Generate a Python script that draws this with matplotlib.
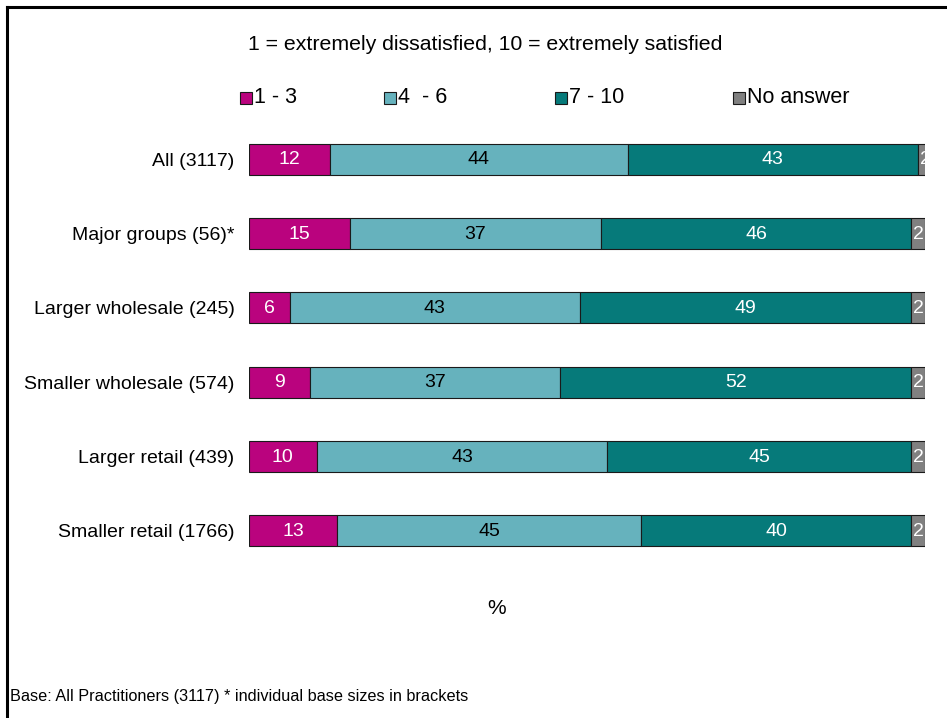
import matplotlib.pyplot as plt
from matplotlib.lines import Line2D
from matplotlib.patches import Rectangle
import numpy as np

plt.rcParams['font.family'] = ['Liberation Sans', 'DejaVu Sans']

groups = ['All (3117)', 'Major groups (56)*', 'Larger wholesale (245)',
          'Smaller wholesale (574)', 'Larger retail (439)', 'Smaller retail (1766)']
low = [12, 15, 6, 9, 10, 13]
mid = [44, 37, 43, 37, 43, 45]
high = [43, 46, 49, 52, 45, 40]
no_answer = [2, 2, 2, 2, 2, 2]

series = [low, mid, high, no_answer]
names = ['1 - 3', '4  - 6', '7 - 10', 'No answer']
colors = ['#BA037E', '#66B2BD', '#067A7A', '#808080']
text_colors = ['white', 'black', 'white', 'white']

W, H = 947, 718
fig = plt.figure(figsize=(W / 100, H / 100), dpi=100)
ax = fig.add_axes([249 / W, 1 - 568 / H, (925 - 249) / W, (568 - 122) / H])

y = np.arange(len(groups))
left = np.zeros(len(groups))
for vals, name, c, tc in zip(series, names, colors, text_colors):
    vals = np.array(vals)
    ax.barh(y, vals, left=left, height=0.42, color=c, edgecolor='#1a1a1a',
            linewidth=0.8, label=name)
    for yi, l, v in zip(y, left, vals):
        ax.text(l + v / 2, yi + 0.01, str(v), ha='center', va='center',
                color=tc, fontsize=14, clip_on=True)
    left += vals

ax.set_xlim(0, 100)
ax.set_ylim(5.5, -0.5)
ax.set_yticks(y)
ax.set_yticklabels(groups, fontsize=14)
ax.tick_params(axis='y', length=0, pad=10.5)
ax.set_xticks([])
for s in ax.spines.values():
    s.set_visible(False)

fig.text(485 / W, 1 - 45 / H, '1 = extremely dissatisfied, 10 = extremely satisfied',
         ha='center', va='center', fontsize=15.3)
fig.text(497 / W, 1 - 608 / H, '%', ha='center', va='center', fontsize=15)
fig.text(10 / W, 1 - 697 / H, 'Base: All Practitioners (3117) * individual base sizes in brackets',
         ha='left', va='center', fontsize=11.7)

# legend laid out by hand: square swatch followed by its label
legend_x = [240, 384, 555, 733]
for lx, name, c in zip(legend_x, names, colors):
    fig.add_artist(Rectangle((lx / W, 1 - 104 / H), 12 / W, 12 / H,
                             facecolor=c, edgecolor='#1a1a1a', linewidth=0.8,
                             transform=fig.transFigure))
    fig.text((lx + 14) / W, 1 - 97.5 / H, name, ha='left', va='center', fontsize=15.5)

# frame lines along the top and left edges
fig.add_artist(Line2D([6.5 / W, 1], [1 - 6.5 / H, 1 - 6.5 / H], color='black', lw=2.2))
fig.add_artist(Line2D([6.5 / W, 6.5 / W], [0, 1 - 6.5 / H], color='black', lw=2.2))

fig.savefig('out.png', dpi=100)
